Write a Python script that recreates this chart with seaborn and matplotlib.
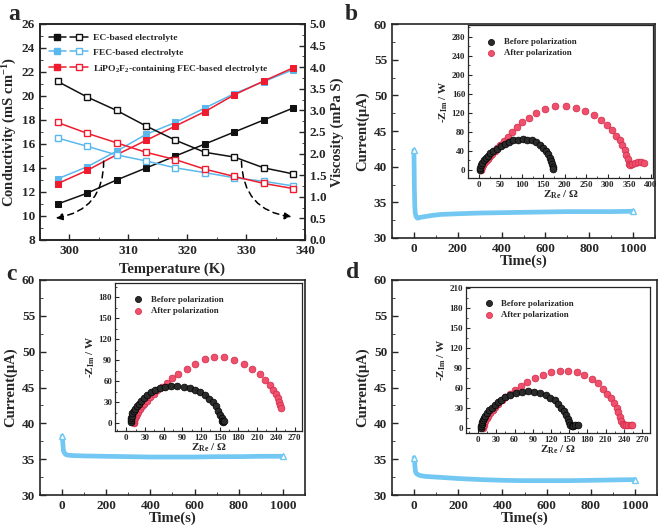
import matplotlib
matplotlib.use("Agg")
import matplotlib.pyplot as plt
import seaborn as sns
from matplotlib.lines import Line2D
from matplotlib.legend_handler import HandlerTuple
from matplotlib.ticker import MultipleLocator, AutoMinorLocator

# ---- panel a: conductivity / viscosity vs temperature ----
temp_k = [298, 303, 308, 313, 318, 323, 328, 333, 338]
cond_ec = [11.0, 11.9, 13.0, 14.0, 15.0, 16.0, 17.0, 18.0, 19.0]
cond_fec = [13.1, 14.1, 15.4, 16.8, 17.8, 19.0, 20.2, 21.2, 22.2]
cond_lipo = [12.7, 13.8, 15.1, 16.3, 17.5, 18.7, 20.1, 21.25, 22.35]
visc_ec = [3.67, 3.31, 3.00, 2.64, 2.31, 2.03, 1.92, 1.67, 1.53]
visc_fec = [2.36, 2.17, 1.97, 1.83, 1.67, 1.56, 1.44, 1.36, 1.25]
visc_lipo = [2.72, 2.47, 2.25, 2.03, 1.86, 1.64, 1.47, 1.31, 1.19]
series_names = ["EC-based electrolyte", "FEC-based electrolyte",
                "LiPO$_2$F$_2$-containing FEC-based electrolyte"]

# ---- panels b, c, d: current vs time ----
time_b = [0, 1, 2, 4, 6, 10, 15, 20, 30, 50, 80, 120, 200, 300, 400, 500, 600, 700, 800, 900, 1000]
curr_b = [42.3, 40.0, 37.0, 34.5, 33.5, 33.0, 32.8, 32.8, 32.9, 33.0, 33.15, 33.3, 33.4, 33.5,
          33.55, 33.6, 33.65, 33.7, 33.7, 33.7, 33.75]
time_c = [0, 2, 4, 6, 10, 15, 20, 30, 50, 100, 200, 300, 400, 500, 600, 700, 800, 900, 1000]
curr_c = [38.2, 37.8, 37.0, 36.2, 35.9, 35.7, 35.6, 35.55, 35.5, 35.45, 35.4, 35.35, 35.3,
          35.3, 35.3, 35.35, 35.35, 35.4, 35.4]
time_d = [0, 2, 4, 6, 10, 15, 20, 30, 50, 100, 200, 300, 400, 500, 600, 700, 800, 900, 1000]
curr_d = [35.2, 34.8, 34.0, 33.3, 33.0, 32.9, 32.8, 32.7, 32.6, 32.5, 32.3, 32.15, 32.05,
          32.0, 32.0, 32.0, 32.05, 32.1, 32.15]

# ---- Nyquist insets ----
zre_b_before = [2, 3, 5, 8, 12, 16, 21, 27, 34, 42, 51, 60, 70, 80, 91, 102, 113, 123, 133,
                142, 150, 157, 162, 166, 169, 171, 172, 172]
zim_b_before = [0, 5, 10, 15, 20, 25, 30, 35, 40, 45, 50, 55, 59, 62, 64, 65, 64, 62, 58,
                53, 47, 40, 33, 26, 19, 12, 6, 1]
zre_b_after = [5, 6, 8, 10, 13, 17, 21, 26, 31, 37, 43, 50, 58, 67, 77, 88, 101, 116, 134, 155,
               178, 203, 226, 248, 267, 283, 298, 310, 320, 328, 334, 339, 343, 347, 350, 352,
               357, 363, 370, 377, 383]
zim_b_after = [0, 3, 6, 10, 14, 19, 24, 29, 34, 40, 46, 52, 60, 70, 80, 90, 100, 110, 120, 128,
               134, 134, 130, 124, 115, 105, 94, 83, 72, 62, 52, 42, 32, 22, 12, 10, 12, 14, 16,
               17, 15]
zre_c_before = [7, 7.5, 8, 9, 10, 12, 14, 17, 20, 24, 28, 33, 39, 46, 54, 63, 72, 82, 92, 102,
                111, 119, 127, 133, 139, 144, 148, 151, 153, 154, 155, 157]
zim_c_before = [2, 5, 8, 11, 14, 17, 20, 24, 28, 32, 36, 40, 44, 47, 50, 52, 53, 53, 52, 50,
                47, 44, 40, 35, 30, 24, 18, 12, 7, 3, 2, 3]
zre_c_after = [12, 12.5, 13, 14, 15, 17, 19, 22, 25, 29, 33, 38, 44, 50, 57, 65, 73, 83, 97,
               111, 127, 141, 157, 173, 189, 202, 214, 223, 231, 236, 240, 243, 245, 247, 248]
zim_c_after = [0, 2, 4, 7, 10, 13, 16, 20, 24, 28, 32, 37, 42, 47, 52, 58, 64, 70, 77, 84, 92,
               94, 94, 90, 85, 78, 70, 62, 55, 48, 42, 36, 30, 26, 22]
zre_d_before = [5, 5.5, 6, 7, 8, 10, 12, 15, 18, 22, 27, 32, 38, 45, 53, 62, 72, 82, 92, 102,
                111, 119, 126, 132, 137, 141, 145, 148, 150, 152, 154, 156, 160, 165]
zim_d_before = [0, 3, 6, 9, 12, 15, 18, 22, 26, 30, 34, 38, 42, 46, 49, 52, 54, 55, 54, 52,
                49, 45, 41, 36, 30, 25, 19, 13, 8, 4, 2, 3, 4, 4]
zre_d_after = [8, 8.5, 9, 10, 12, 14, 17, 20, 24, 28, 33, 39, 45, 52, 60, 70, 81, 93, 106, 120,
               134, 148, 162, 175, 187, 197, 206, 213, 219, 224, 228, 231, 234, 236, 238, 240,
               243, 247, 251, 254]
zim_d_after = [0, 2, 4, 7, 10, 14, 18, 22, 27, 31, 36, 41, 46, 51, 57, 63, 69, 75, 80, 84, 86,
               86, 84, 80, 74, 67, 59, 51, 44, 37, 30, 23, 16, 10, 5, 4, 4, 4, 4, 4]

sns.set_style("ticks")
plt.rcParams["font.family"] = ["Liberation Serif", "DejaVu Serif"]
plt.rcParams["font.weight"] = "bold"
plt.rcParams["axes.labelweight"] = "bold"
plt.rcParams["mathtext.fontset"] = "custom"
plt.rcParams["mathtext.rm"] = "Liberation Serif:bold"
plt.rcParams["mathtext.bf"] = "Liberation Serif:bold"
plt.rcParams["mathtext.it"] = "Liberation Serif:bold"
plt.rcParams["mathtext.default"] = "bf"
plt.rcParams["axes.linewidth"] = 1.2
plt.rcParams["xtick.direction"] = "in"
plt.rcParams["ytick.direction"] = "in"

BLACK = "#111111"
BLUE = "#5bb8ee"
RED = "#ee1c2e"
CURR = "#72c8f2"
BALL_K = "#2b2b2b"
BALL_R = "#f0506c"

W, H = 661, 525
fig = plt.figure(figsize=(W / 100, H / 100), dpi=100)


def box(l, r, t, b):
    return [l / W, 1 - b / H, (r - l) / W, (b - t) / H]


# ---------------- panel a ----------------
ax = fig.add_axes(box(40, 305, 24, 240))
axr = ax.twinx()
for cond, visc, col in [(cond_ec, visc_ec, BLACK), (cond_fec, visc_fec, BLUE),
                        (cond_lipo, visc_lipo, RED)]:
    sns.lineplot(x=temp_k, y=cond, ax=ax, color=col, marker="s", markersize=5,
                 markeredgecolor=col, linewidth=1.1)
    sns.lineplot(x=temp_k, y=visc, ax=axr, color=col, marker="s", markersize=5,
                 markerfacecolor="white", markeredgecolor=col, markeredgewidth=1.0,
                 linewidth=1.1)
ax.set_xlim(295, 340)
ax.set_ylim(8, 26)
axr.set_ylim(0, 5)
ax.xaxis.set_major_locator(MultipleLocator(10))
ax.xaxis.set_minor_locator(MultipleLocator(5))
ax.yaxis.set_major_locator(MultipleLocator(2))
ax.yaxis.set_minor_locator(MultipleLocator(1))
axr.yaxis.set_major_locator(MultipleLocator(0.5))
axr.yaxis.set_minor_locator(MultipleLocator(0.25))
ax.set_xlabel("Temperature (K)", fontsize=10.5, labelpad=4)
ax.set_ylabel("Conductivity (mS cm$^{-1}$)", fontsize=10.5, labelpad=2)
axr.set_ylabel("Viscosity (mPa S)", fontsize=10.5, labelpad=3)
ax.tick_params(labelsize=9.5, width=1, length=4)
ax.tick_params(which="minor", length=2)
axr.tick_params(labelsize=9.5, width=1, length=4)
axr.tick_params(which="minor", length=2)
ax.annotate("", xy=(297.2, 9.8), xytext=(305.8, 14.8),
            arrowprops=dict(arrowstyle="-|>", linestyle=(0, (4, 3)), color="black",
                            lw=1.1, connectionstyle="arc3,rad=-0.45"))
ax.annotate("", xy=(338.2, 9.9), xytext=(329.2, 14.8),
            arrowprops=dict(arrowstyle="-|>", linestyle=(0, (4, 3)), color="black",
                            lw=1.1, connectionstyle="arc3,rad=0.45"))
handles = []
for col in [BLACK, BLUE, RED]:
    h1 = Line2D([], [], color=col, marker="s", markersize=4, lw=1.1)
    h2 = Line2D([], [], color=col, marker="s", markersize=4, lw=1.1,
                markerfacecolor="white", markeredgecolor=col)
    handles.append((h1, h2))
ax.legend(handles, series_names, handler_map={tuple: HandlerTuple(ndivide=None, pad=0.4)},
          loc="upper left", bbox_to_anchor=(0.0, 0.995), frameon=False, fontsize=6.8,
          handlelength=4.2, labelspacing=0.62, handletextpad=0.5)
fig.text(8 / W, 1 - 15 / H, "a", fontsize=17, fontweight="bold", va="center")


# ---------------- current panels ----------------
def current_panel(rect, t, cur, letter, lxy):
    axc = fig.add_axes(box(*rect))
    sns.lineplot(x=t, y=cur, ax=axc, color=CURR, linewidth=3.4, solid_capstyle="round")
    axc.plot([t[0], t[-1]], [cur[0], cur[-1]], ls="none", marker="^", ms=5,
             mfc="white", mec=CURR, mew=1.0)
    axc.set_xlim(-100, 1100)
    axc.set_ylim(30, 60)
    axc.xaxis.set_major_locator(MultipleLocator(200))
    axc.xaxis.set_minor_locator(MultipleLocator(100))
    axc.yaxis.set_major_locator(MultipleLocator(5))
    axc.yaxis.set_minor_locator(MultipleLocator(2.5))
    axc.tick_params(labelsize=9.5, width=1, length=4)
    axc.tick_params(which="minor", length=2)
    axc.set_xlabel("Time(s)", fontsize=10.5, labelpad=0)
    axc.set_ylabel("Current(μA)", fontsize=10.5, labelpad=3)
    fig.text(lxy[0] / W, 1 - lxy[1] / H, letter, fontsize=17, fontweight="bold",
             va="center")
    return axc


def nyquist(rect, xb, yb, xa, ya, xlim, ylim, xstep, ystep):
    ai = fig.add_axes(box(*rect))
    sns.scatterplot(x=xb, y=yb, ax=ai, color=BALL_K, edgecolor="black", s=24,
                    linewidth=0.5, label="Before polarization", zorder=3)
    sns.scatterplot(x=xa, y=ya, ax=ai, color=BALL_R, edgecolor="#d02848", s=24,
                    linewidth=0.5, label="After polarization", zorder=2)
    ai.set_xlim(*xlim)
    ai.set_ylim(*ylim)
    ai.xaxis.set_major_locator(MultipleLocator(xstep))
    ai.xaxis.set_minor_locator(AutoMinorLocator(2))
    ai.yaxis.set_major_locator(MultipleLocator(ystep))
    ai.yaxis.set_minor_locator(AutoMinorLocator(2))
    ai.tick_params(labelsize=6.5, width=0.8, length=3, pad=2)
    ai.tick_params(which="minor", length=1.5)
    ai.set_xlabel("Z$_{Re}$ / Ω", fontsize=8, labelpad=0)
    ai.set_ylabel("-Z$_{Im}$ / W", fontsize=8, labelpad=1)
    for s in ai.spines.values():
        s.set_linewidth(0.9)
    ai.legend(loc="upper left", bbox_to_anchor=(0.05, 0.95), frameon=False, fontsize=6.3,
              handletextpad=0.4, borderaxespad=0.2, labelspacing=0.35, markerscale=0.9)
    return ai


current_panel((392, 655, 24, 238), time_b, curr_b, "b", (345, 15))
nyquist((468, 653, 25, 178), zre_b_before, zim_b_before, zre_b_after, zim_b_after,
        (-25, 405), (-17, 305), 50, 40)

current_panel((40, 305, 280, 495), time_c, curr_c, "c", (6, 274))
nyquist((115, 302, 283, 431), zre_c_before, zim_c_before, zre_c_after, zim_c_after,
        (-18, 282), (-11, 200), 30, 30)

current_panel((392, 657, 280, 495), time_d, curr_d, "d", (346, 272))
nyquist((466, 650, 287, 433), zre_d_before, zim_d_before, zre_d_after, zim_d_after,
        (-20, 283), (-8, 212), 30, 30)

fig.savefig("out.png", dpi=100)
